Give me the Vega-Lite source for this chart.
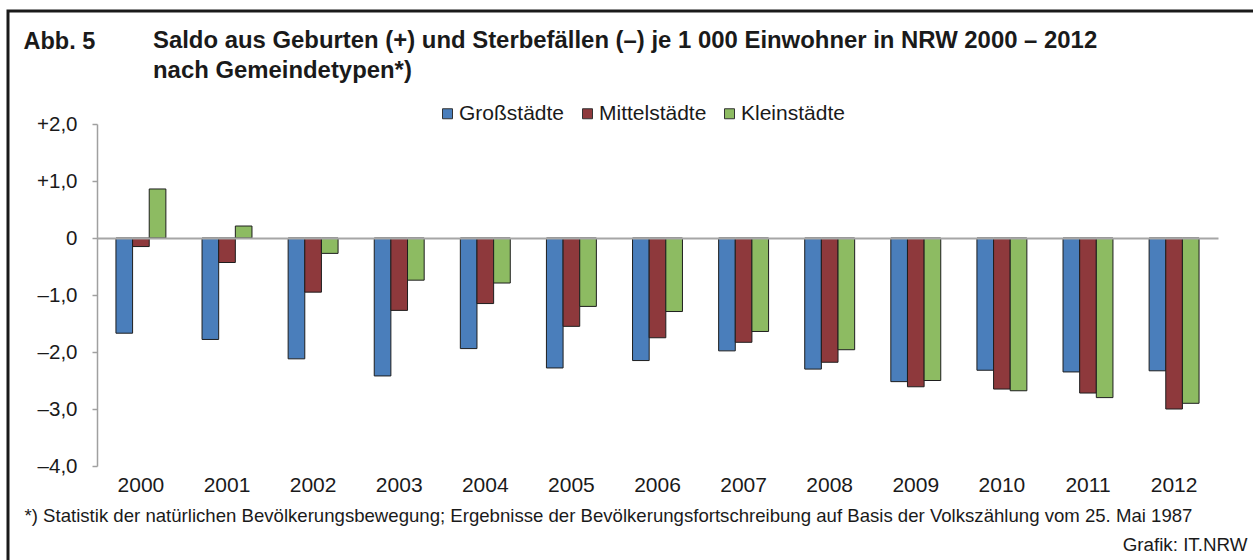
{
  "$schema": "https://vega.github.io/schema/vega-lite/v6.json",
  "autosize": {"type": "none"},
  "padding": {"left": 8, "top": 11, "right": 0, "bottom": 0},
  "width": 1245,
  "height": 549,
  "background": "white",
  "view": {"stroke": "#1a1a1a", "strokeWidth": 3, "strokeDash": [1245, 1794, 549], "fill": "white"},
  "config": {"font": "Liberation Sans"},
  "title": {
    "text": ["Saldo aus Geburten (+) und Sterbefällen (–) je 1 000 Einwohner in NRW 2000 – 2012", "nach Gemeindetypen*)"],
    "anchor": "start",
    "frame": "group",
    "offset": 0,
    "dx": 145,
    "dy": 91,
    "baseline": "alphabetic",
    "fontSize": 23.9,
    "fontWeight": "bold",
    "color": "#1a1a1a",
    "lineHeight": 30.5
  },
  "data": {
    "values": [
      {"year": "2000", "type": "Großstädte", "value": -1.67},
      {"year": "2000", "type": "Mittelstädte", "value": -0.15},
      {"year": "2000", "type": "Kleinstädte", "value": 0.86},
      {"year": "2001", "type": "Großstädte", "value": -1.78},
      {"year": "2001", "type": "Mittelstädte", "value": -0.43},
      {"year": "2001", "type": "Kleinstädte", "value": 0.21},
      {"year": "2002", "type": "Großstädte", "value": -2.12},
      {"year": "2002", "type": "Mittelstädte", "value": -0.95},
      {"year": "2002", "type": "Kleinstädte", "value": -0.27},
      {"year": "2003", "type": "Großstädte", "value": -2.42},
      {"year": "2003", "type": "Mittelstädte", "value": -1.27},
      {"year": "2003", "type": "Kleinstädte", "value": -0.74},
      {"year": "2004", "type": "Großstädte", "value": -1.94},
      {"year": "2004", "type": "Mittelstädte", "value": -1.15},
      {"year": "2004", "type": "Kleinstädte", "value": -0.79},
      {"year": "2005", "type": "Großstädte", "value": -2.28},
      {"year": "2005", "type": "Mittelstädte", "value": -1.55},
      {"year": "2005", "type": "Kleinstädte", "value": -1.20},
      {"year": "2006", "type": "Großstädte", "value": -2.15},
      {"year": "2006", "type": "Mittelstädte", "value": -1.75},
      {"year": "2006", "type": "Kleinstädte", "value": -1.29},
      {"year": "2007", "type": "Großstädte", "value": -1.98},
      {"year": "2007", "type": "Mittelstädte", "value": -1.83},
      {"year": "2007", "type": "Kleinstädte", "value": -1.64},
      {"year": "2008", "type": "Großstädte", "value": -2.30},
      {"year": "2008", "type": "Mittelstädte", "value": -2.18},
      {"year": "2008", "type": "Kleinstädte", "value": -1.96},
      {"year": "2009", "type": "Großstädte", "value": -2.52},
      {"year": "2009", "type": "Mittelstädte", "value": -2.61},
      {"year": "2009", "type": "Kleinstädte", "value": -2.50},
      {"year": "2010", "type": "Großstädte", "value": -2.32},
      {"year": "2010", "type": "Mittelstädte", "value": -2.65},
      {"year": "2010", "type": "Kleinstädte", "value": -2.68},
      {"year": "2011", "type": "Großstädte", "value": -2.35},
      {"year": "2011", "type": "Mittelstädte", "value": -2.72},
      {"year": "2011", "type": "Kleinstädte", "value": -2.80},
      {"year": "2012", "type": "Großstädte", "value": -2.33},
      {"year": "2012", "type": "Mittelstädte", "value": -3.00},
      {"year": "2012", "type": "Kleinstädte", "value": -2.90}
    ]
  },
  "resolve": {"axis": {"y": "independent"}},
  "layer": [
    {
      "mark": {"type": "bar", "stroke": "#1e1e1e", "strokeWidth": 1},
      "encoding": {
        "x": {
          "field": "year",
          "type": "nominal",
          "scale": {"range": [89, 1210], "paddingInner": 0.42, "paddingOuter": 0.22},
          "axis": {
            "orient": "bottom",
            "offset": -322,
            "domain": true,
            "domainColor": "#a6a6a6",
            "domainWidth": 2,
            "ticks": false,
            "tickSize": 0,
            "labelAngle": 0,
            "labelPadding": 236,
            "labelFontSize": 21,
            "labelColor": "#1a1a1a",
            "labelBaseline": "top",
            "zindex": 1,
            "title": "*) Statistik der natürlichen Bevölkerungsbewegung; Ergebnisse der Bevölkerungsfortschreibung auf Basis der Volkszählung vom 25. Mai 1987",
            "titleX": 16,
            "titleY": 283,
            "titleAlign": "left",
            "titleAnchor": "start",
            "titleBaseline": "alphabetic",
            "titleFontSize": 18.6,
            "titleFontWeight": "normal",
            "titleColor": "#1a1a1a"
          }
        },
        "xOffset": {
          "field": "type",
          "type": "nominal",
          "sort": ["Großstädte", "Mittelstädte", "Kleinstädte"],
          "scale": {"paddingInner": 0, "paddingOuter": 0}
        },
        "y": {
          "field": "value",
          "type": "quantitative",
          "scale": {"domain": [-4, 2], "range": [455, 113], "nice": false, "zero": false},
          "axis": {
            "orient": "left",
            "offset": -89,
            "values": [-4, -3, -2, -1, 0, 1, 2],
            "labelExpr": "datum.value == 0 ? '0' : (datum.value > 0 ? '+' : '–') + replace(format(abs(datum.value), '.1f'), '.', ',')",
            "domainColor": "#a0a0a0",
            "domainWidth": 1.5,
            "tickColor": "#a0a0a0",
            "tickWidth": 1.5,
            "tickSize": 5,
            "grid": false,
            "labelPadding": 15,
            "labelFontSize": 20.5,
            "labelColor": "#1a1a1a",
            "title": "Abb. 5",
            "titleAngle": 0,
            "titleX": -74,
            "titleY": 37,
            "titleAlign": "left",
            "titleBaseline": "alphabetic",
            "titleFontSize": 23.5,
            "titleFontWeight": "bold",
            "titleColor": "#1a1a1a"
          }
        },
        "color": {
          "field": "type",
          "type": "nominal",
          "sort": ["Großstädte", "Mittelstädte", "Kleinstädte"],
          "scale": {"domain": ["Großstädte", "Mittelstädte", "Kleinstädte"], "range": ["#4A7EBB", "#8E393C", "#8DBB62"]},
          "legend": {
            "orient": "none",
            "legendX": 429,
            "legendY": 92,
            "direction": "horizontal",
            "title": null,
            "symbolType": "square",
            "symbolSize": 100,
            "symbolStrokeColor": "#333333",
            "symbolStrokeWidth": 1,
            "symbolOpacity": 1,
            "labelFontSize": 21,
            "labelColor": "#1a1a1a",
            "labelOffset": 1,
            "columnPadding": 12
          }
        }
      }
    },
    {
      "mark": {"type": "rule", "opacity": 0},
      "encoding": {
        "y": {
          "datum": 0,
          "type": "quantitative",
          "axis": {
            "orient": "right",
            "offset": 0,
            "domain": false,
            "ticks": false,
            "labels": false,
            "grid": false,
            "title": "Grafik: IT.NRW",
            "titleAngle": 0,
            "titleX": -6,
            "titleY": 539,
            "titleAlign": "right",
            "titleBaseline": "alphabetic",
            "titleFontSize": 18.8,
            "titleFontWeight": "normal",
            "titleColor": "#1a1a1a"
          }
        }
      }
    }
  ]
}
